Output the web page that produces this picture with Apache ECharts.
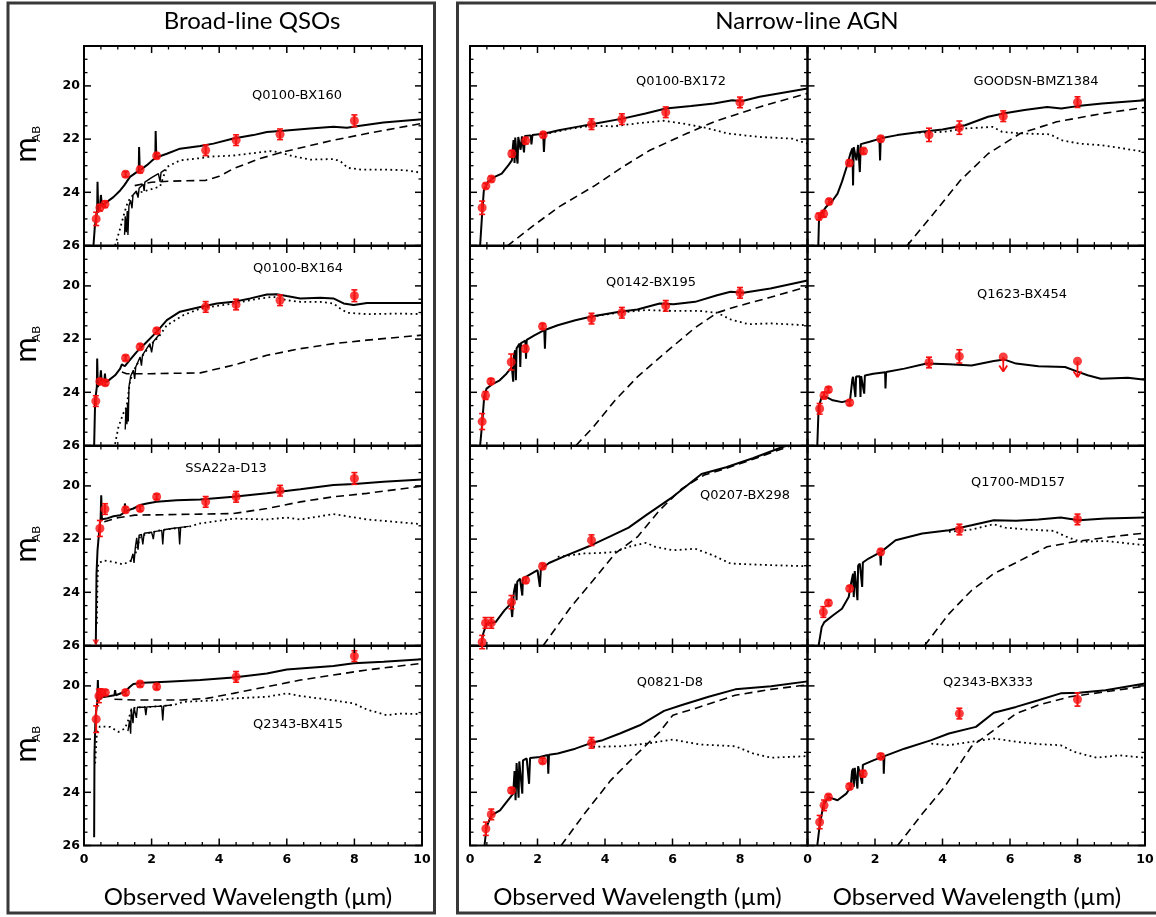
<!DOCTYPE html>
<html><head><meta charset="utf-8">
<script src="https://cdn.jsdelivr.net/npm/echarts@6/dist/echarts.min.js"></script>
<style>html,body{margin:0;padding:0;background:#fff}#c{width:1156px;height:917px}</style>
</head><body><div id="c"></div>
<script>
// ---------------- tick values ----------------
const xTicks = [0, 2, 4, 6, 8, 10];
const xTicksInner = [0, 2, 4, 6, 8];
const xMinorTicks = [0.5, 1, 1.5, 2.5, 3, 3.5, 4.5, 5, 5.5, 6.5, 7, 7.5, 8.5, 9, 9.5];
const yTicks = [20, 22, 24, 26];
const yMinorTicks = [19, 19.5, 20.5, 21, 21.5, 22.5, 23, 23.5, 24.5, 25, 25.5];

// ---------------- Broad-line QSOs ----------------
const p1Name = 'Q0100-BX160';
const p1Phot = [[0.36,25.0,0.25],[0.47,24.58,0.12],[0.62,24.45,0.12],[1.23,23.32,0.1],[1.66,23.15,0.12],[2.15,22.63,0.1],[3.6,22.42,0.2],[4.5,22.04,0.2],[5.8,21.82,0.2],[8.0,21.31,0.22]];
const p1Total = [[0.28,26.0],[0.32,25.3],[0.36,24.93],[0.39,24.68],[0.4,23.6],[0.42,24.68],[0.47,24.58],[0.5,24.1],[0.53,24.5],[0.67,24.37],[0.87,24.18],[1.07,23.93],[1.19,23.74],[1.26,23.61],[1.36,23.42],[1.56,23.24],[1.62,23.2],[1.63,22.3],[1.65,23.18],[1.86,22.98],[2.05,22.77],[2.11,22.72],[2.12,21.7],[2.14,22.69],[2.45,22.55],[2.84,22.36],[3.44,22.26],[3.83,22.17],[4.42,21.98],[5.01,21.85],[5.41,21.73],[5.9,21.69],[6.69,21.6],[7.38,21.54],[7.78,21.57],[8.17,21.5],[8.86,21.38],[10,21.25]];
const p1Spec = [[1.2,25.6],[1.22,24.9],[1.25,25.5],[1.28,24.7],[1.3,25.6],[1.33,24.5],[1.38,24.3],[1.42,24.6],[1.45,24.1],[1.55,23.95],[1.6,24.2],[1.63,23.85],[1.75,23.7],[1.78,23.95],[1.8,23.62],[2.0,23.45],[2.2,23.3],[2.25,23.6],[2.28,23.25],[2.4,23.15]];
const p1Stellar = [[0.92,26.0],[1.05,25.45],[1.2,24.75],[1.3,24.35],[1.46,24.08],[1.86,23.93],[2.25,23.78],[2.3,23.6],[2.45,23.05],[2.84,22.8],[3.4,22.72],[3.72,22.66],[4.4,22.62],[5.0,22.53],[5.5,22.45],[5.8,22.5],[6.2,22.65],[6.7,22.77],[7.4,22.75],[7.6,22.85],[7.8,23.08],[8.2,23.15],[9.0,23.15],[9.5,23.17],[10,23.27]];
const p1Agn = [[1.5,23.75],[2.0,23.62],[2.6,23.58],[3.6,23.55],[4.0,23.4],[4.42,23.11],[5.21,22.73],[5.9,22.48],[7.38,22.04],[8.37,21.79],[10,21.41]];

const p2Name = 'Q0100-BX164';
const p2Phot = [[0.35,24.33,0.2],[0.47,23.59,0.1],[0.63,23.64,0.1],[1.23,22.71,0.1],[1.66,22.29,0.1],[2.15,21.69,0.1],[3.6,20.79,0.2],[4.5,20.7,0.2],[5.8,20.54,0.2],[8.0,20.37,0.22]];
const p2Total = [[0.3,26.0],[0.33,24.3],[0.38,23.8],[0.39,22.73],[0.41,23.8],[0.47,23.61],[0.5,23.17],[0.52,23.55],[0.6,23.6],[0.62,23.3],[0.64,23.62],[0.7,23.58],[0.92,23.36],[1.07,23.11],[1.12,22.95],[1.21,23.02],[1.31,22.86],[1.56,22.48],[1.86,22.1],[2.15,21.73],[2.45,21.29],[2.84,20.97],[3.44,20.79],[3.93,20.66],[4.42,20.6],[4.92,20.47],[5.41,20.32],[5.7,20.31],[6.0,20.38],[6.4,20.47],[6.99,20.45],[7.38,20.47],[7.68,20.66],[7.98,20.72],[8.37,20.64],[9.36,20.64],[10,20.64]];
const p2Spec = [[1.22,25.4],[1.24,24.6],[1.27,25.2],[1.29,24.4],[1.31,25.1],[1.33,23.8],[1.38,23.4],[1.46,23.17],[1.5,23.5],[1.53,23.05],[1.66,22.67],[1.7,23.0],[1.73,22.6],[1.95,22.17],[2.0,22.5],[2.05,22.1],[2.25,21.79]];
const p2Stellar = [[0.92,25.94],[1.02,25.3],[1.16,24.8],[1.26,24.55],[1.36,23.6],[1.46,23.2],[1.66,22.75],[1.95,22.25],[2.25,21.85],[2.45,21.48],[2.94,21.1],[3.44,20.85],[4.42,20.66],[5.21,20.47],[5.61,20.41],[6.0,20.54],[6.4,20.6],[6.99,20.6],[7.38,20.66],[7.58,20.85],[7.78,21.01],[8.37,21.06],[9.36,21.04],[10,21.06]];
const p2Agn = [[1.12,23.24],[1.26,23.3],[1.95,23.3],[3.44,23.27],[4.42,22.98],[5.41,22.61],[6.4,22.36],[7.38,22.17],[8.37,22.04],[10,21.85]];

const p3Name = 'SSA22a-D13';
const p3Phot = [[0.47,21.6,0.3],[0.62,20.87,0.2],[1.23,20.9,0.1],[1.66,20.85,0.1],[2.15,20.41,0.1],[3.6,20.6,0.2],[4.5,20.41,0.2],[5.8,20.18,0.2],[8.0,19.72,0.22]];
const p3Faint = [[0.35,26.0]];
const p3Total = [[0.35,25.96],[0.37,23.3],[0.4,22.42],[0.47,21.41],[0.49,21.3],[0.51,20.35],[0.53,21.25],[0.67,21.23],[0.87,21.14],[1.07,21.1],[1.2,21.0],[1.21,20.66],[1.23,20.95],[1.46,20.85],[1.66,20.72],[1.86,20.66],[2.15,20.6],[2.74,20.54],[3.44,20.51],[4.42,20.41],[5.41,20.28],[6.4,20.13],[7.38,19.97],[8.0,19.93],[8.86,19.84],[10,19.76]];
const p3Spec = [[1.38,22.85],[1.45,22.55],[1.48,22.9],[1.52,22.3],[1.56,21.95],[1.6,22.4],[1.63,21.85],[1.7,21.82],[1.74,22.2],[1.78,21.78],[2.0,21.74],[2.05,22.0],[2.08,21.72],[2.3,21.67],[2.33,22.2],[2.36,21.65],[2.6,21.6],[2.8,21.57],[2.83,22.2],[2.86,21.56],[3.1,21.52]];
const p3Stellar = [[0.38,25.18],[0.4,23.55],[0.42,22.92],[0.57,22.8],[0.87,22.86],[1.16,22.95],[1.41,22.8],[1.51,22.61],[1.66,21.92],[1.86,21.79],[2.25,21.67],[2.84,21.57],[3.14,21.52],[3.44,21.41],[4.42,21.23],[5.41,21.26],[6.0,21.19],[6.4,21.26],[7.38,21.06],[7.58,21.1],[8.37,21.26],[10,21.44]];
const p3Agn = [[0.6,21.35],[1.0,21.2],[1.5,21.1],[2.5,21.08],[3.44,21.06],[4.42,21.04],[5.41,20.85],[6.4,20.6],[7.38,20.41],[8.37,20.28],[10,20.01]];

const p4Name = 'Q2343-BX415';
const p4Phot = [[0.36,21.25,0.5],[0.44,20.38,0.25],[0.49,20.26,0.15],[0.63,20.25,0.1],[1.23,20.25,0.1],[1.66,19.93,0.1],[2.15,20.03,0.1],[4.5,19.66,0.2],[8.0,18.88,0.2]];
const p4Total = [[0.3,25.69],[0.31,22.55],[0.34,21.16],[0.39,20.66],[0.41,19.78],[0.43,20.54],[0.47,20.47],[0.53,20.43],[0.77,20.38],[0.9,20.35],[0.92,20.16],[0.94,20.35],[1.21,20.22],[1.36,20.03],[1.46,19.93],[1.76,19.88],[2.45,19.84],[3.44,19.78],[4.42,19.68],[5.41,19.53],[6.0,19.38],[7.38,19.25],[7.98,19.15],[8.86,19.09],[10,19.0]];
const p4Spec = [[1.3,21.7],[1.35,21.3],[1.38,21.8],[1.4,20.85],[1.45,21.4],[1.48,20.82],[1.55,21.2],[1.58,20.8],[1.8,20.8],[1.83,21.1],[1.86,20.79],[2.3,20.76],[2.33,21.3],[2.36,20.75],[2.6,20.72]];
const p4Stellar = [[0.33,22.92],[0.38,21.79],[0.47,21.52],[0.77,21.54],[1.02,21.73],[1.21,21.6],[1.31,21.29],[1.41,20.85],[1.56,20.81],[1.95,20.79],[2.65,20.72],[2.94,20.6],[3.93,20.54],[4.42,20.47],[5.41,20.41],[6.0,20.28],[6.4,20.38],[7.38,20.54],[7.98,20.66],[8.37,20.89],[8.96,21.1],[9.36,21.04],[10,21.06]];
const p4Agn = [[0.9,20.5],[1.5,20.53],[2.9,20.53],[3.63,20.47],[4.42,20.28],[5.41,20.03],[6.4,19.78],[7.38,19.59],[8.37,19.4],[10,19.15]];

// ---------------- Narrow-line AGN ----------------
const n1Name = 'Q0100-BX172';
const n1Phot = [[0.36,24.58,0.25],[0.47,23.76,0.1],[0.63,23.5,0.1],[1.24,22.55,0.12],[1.65,22.06,0.12],[2.17,21.84,0.1],[3.6,21.44,0.2],[4.5,21.25,0.2],[5.8,20.99,0.2],[8.0,20.62,0.2]];
const n1Total = [[0.3,26.0],[0.36,24.8],[0.41,23.93],[0.53,23.61],[0.73,23.42],[0.94,23.3],[1.14,22.98],[1.24,22.8],[1.27,22.3],[1.29,22.04],[1.32,22.9],[1.34,21.94],[1.38,22.6],[1.41,22.92],[1.43,21.92],[1.5,22.4],[1.54,21.9],[1.6,22.5],[1.63,21.88],[1.8,21.86],[1.82,22.2],[1.85,21.85],[2.17,21.8],[2.19,22.48],[2.22,21.79],[2.63,21.67],[3.17,21.54],[3.6,21.44],[4.52,21.23],[5.2,21.04],[5.8,20.85],[6.55,20.76],[7.23,20.66],[7.77,20.54],[8.04,20.58],[8.58,20.41],[10,20.1]];
const n1Stellar = [[2.2,21.82],[3.0,21.6],[3.6,21.5],[4.25,21.52],[5.07,21.39],[5.74,21.31],[6.42,21.44],[6.96,21.57],[7.64,21.79],[8.58,21.92],[9.53,21.98],[10,22.17]];
const n1Agn = [[1.1,26.02],[1.82,25.31],[2.63,24.55],[3.71,23.74],[4.52,23.05],[5.33,22.42],[6.42,21.79],[7.23,21.35],[8.58,20.79],[10,20.28]];

const n2Name = 'GOODSN-BMZ1384';
const n2Phot = [[0.34,24.91,0.12],[0.48,24.81,0.12],[0.64,24.35,0.1],[1.24,22.9,0.1],[1.66,22.45,0.1],[2.17,21.99,0.1],[3.6,21.84,0.25],[4.5,21.57,0.25],[5.8,21.14,0.2],[8.0,20.61,0.2]];
const n2Total = [[0.32,26.02],[0.34,25.06],[0.41,24.81],[0.55,24.55],[0.75,24.3],[0.89,24.05],[1.02,23.61],[1.16,23.05],[1.27,22.55],[1.33,22.35],[1.35,23.74],[1.37,22.3],[1.45,22.8],[1.5,22.22],[1.55,23.24],[1.58,22.19],[1.84,22.1],[2.13,21.99],[2.15,22.8],[2.17,21.97],[2.66,21.85],[3.33,21.73],[4.0,21.64],[4.67,21.48],[5.35,21.16],[5.8,21.04],[6.43,20.91],[7.1,20.79],[7.52,20.85],[8.0,20.76],[8.73,20.66],[10,20.54]];
const n2Stellar = [[3.3,21.76],[4.0,21.73],[4.67,21.6],[5.48,21.54],[5.77,21.73],[6.43,21.79],[7.19,21.82],[7.52,22.04],[8.05,22.17],[8.73,22.23],[10,22.48]];
const n2Agn = [[2.94,26.02],[3.73,24.81],[4.53,23.55],[5.35,22.55],[6.3,21.79],[7.38,21.35],[8.73,21.04],[10,20.81]];

const n3Name = 'Q0142-BX195';
const n3Phot = [[0.36,25.1,0.3],[0.46,24.12,0.15],[0.62,23.59,0.1],[1.22,22.86,0.3],[1.64,22.36,0.12],[2.15,21.52,0.1],[3.6,21.23,0.2],[4.5,21.01,0.2],[5.8,20.75,0.2],[8.0,20.26,0.2]];
const n3Total = [[0.3,26.0],[0.36,25.18],[0.42,24.18],[0.49,23.86],[0.68,23.68],[0.88,23.55],[1.08,23.3],[1.24,23.05],[1.28,23.6],[1.3,22.6],[1.34,22.42],[1.36,23.55],[1.38,22.35],[1.47,22.17],[1.49,23.05],[1.51,22.15],[1.64,22.06],[1.66,22.74],[1.68,22.03],[1.92,21.85],[2.2,21.66],[2.22,22.36],[2.24,21.65],[2.6,21.48],[3.12,21.29],[3.64,21.14],[4.43,20.97],[4.96,20.89],[5.62,20.66],[6.03,20.69],[6.67,20.6],[7.32,20.35],[7.72,20.22],[8.1,20.26],[8.9,20.1],[10,19.8]];
const n3Stellar = [[3.6,21.16],[4.43,21.0],[5.22,20.91],[6.03,20.94],[6.8,20.94],[7.32,21.01],[7.72,21.26],[8.25,21.44],[8.9,21.41],[10,21.48]];
const n3Agn = [[3.14,26.0],[3.65,25.31],[4.3,24.3],[4.96,23.42],[5.75,22.55],[6.67,21.57],[7.32,21.01],[7.85,20.79],[8.9,20.43],[10,20.03]];

const n4Name = 'Q1623-BX454';
const n4Phot = [[0.36,24.62,0.2],[0.49,24.12,0.12],[0.62,23.9,0.1],[1.25,24.39,0.1],[3.6,22.88,0.2],[4.5,22.65,0.25]];
const n4Limits = [[5.8,22.67,0.55],[8.0,22.83,0.6]];
const n4Total = [[0.29,26.0],[0.33,24.55],[0.42,24.18],[0.56,24.18],[0.75,24.3],[1.02,24.37],[1.26,24.3],[1.33,23.5],[1.35,23.42],[1.42,24.18],[1.44,23.41],[1.55,23.4],[1.57,24.18],[1.59,23.39],[1.68,24.05],[1.7,23.37],[1.95,23.3],[2.3,23.25],[2.31,23.86],[2.33,23.24],[2.87,23.11],[3.53,22.92],[4.19,22.95],[4.86,22.99],[5.52,22.82],[5.84,22.77],[6.18,22.92],[6.84,23.02],[7.63,23.05],[8.04,23.24],[8.3,23.36],[8.69,23.49],[9.49,23.45],[10,23.53]];

const n5Name = 'Q0207-BX298';
const n5Phot = [[0.36,25.87,0.25],[0.46,25.15,0.2],[0.63,25.15,0.2],[1.23,24.37,0.25],[1.65,23.55,0.1],[2.15,23.02,0.1],[3.6,22.04,0.2]];
const n5Total = [[0.33,26.0],[0.39,25.56],[0.49,25.18],[0.76,25.12],[1.02,24.68],[1.21,24.43],[1.25,24.93],[1.3,24.0],[1.35,23.68],[1.38,24.3],[1.4,23.6],[1.48,23.49],[1.55,24.12],[1.57,23.47],[1.68,23.4],[2.0,23.17],[2.07,23.8],[2.1,23.13],[2.34,22.9],[2.86,22.61],[3.6,22.23],[4.17,21.89],[4.7,21.57],[5.22,21.1],[6.01,20.41],[6.86,19.55],[7.59,19.3],[8.38,18.96],[9.3,18.52],[9.5,18.45]];
const n5Stellar = [[2.6,22.67],[3.39,22.54],[3.92,22.52],[4.3,22.48],[4.7,22.29],[5.22,22.14],[5.49,22.29],[6.01,22.42],[6.67,22.36],[7.2,22.61],[7.72,22.92],[8.92,22.98],[10,23.02]];
const n5Agn = [[2.17,26.0],[2.99,24.55],[3.65,23.55],[4.3,22.54],[4.96,21.92],[5.62,20.91],[6.28,20.1],[6.94,19.59],[7.59,19.34],[8.38,19.0],[9.44,18.52],[9.6,18.45]];

const n6Name = 'Q1700-MD157';
const n6Phot = [[0.47,24.74,0.2],[0.62,24.4,0.1],[1.25,23.86,0.1],[2.17,22.48,0.1],[4.5,21.64,0.2],[8.0,21.26,0.2]];
const n6Total = [[0.33,26.0],[0.42,25.31],[0.5,25.12],[0.75,24.87],[1.02,24.62],[1.22,24.18],[1.3,23.6],[1.35,23.3],[1.37,24.18],[1.4,23.2],[1.48,24.3],[1.5,23.0],[1.55,22.92],[1.62,23.8],[1.64,22.88],[1.81,22.73],[2.15,22.5],[2.17,22.99],[2.19,22.47],[2.61,22.04],[3.4,21.79],[4.19,21.67],[4.86,21.48],[5.52,21.29],[6.18,21.31],[6.84,21.26],[7.5,21.19],[8.04,21.29],[8.83,21.23],[10,21.19]];
const n6Stellar = [[4.19,21.73],[4.86,21.64],[5.52,21.44],[5.86,21.57],[6.51,21.64],[7.29,21.69],[7.69,21.92],[8.09,22.1],[8.83,22.07],[10,22.23]];
const n6Agn = [[3.47,26.0],[4.19,24.81],[4.86,23.93],[5.52,23.3],[6.31,22.8],[7.1,22.29],[7.9,22.1],[8.96,21.92],[10,21.77]];

const n7Name = 'Q0821-D8';
const n7Phot = [[0.47,25.37,0.25],[0.63,24.83,0.2],[1.23,23.93,0.1],[2.15,22.82,0.1],[3.6,22.14,0.2]];
const n7Total = [[0.43,26.0],[0.49,25.31],[0.63,24.87],[0.89,24.68],[1.08,24.37],[1.28,24.05],[1.32,23.2],[1.35,24.3],[1.38,22.9],[1.41,22.86],[1.44,24.2],[1.46,22.84],[1.55,24.05],[1.57,22.8],[1.68,22.73],[1.75,23.68],[1.78,22.71],[2.07,22.67],[2.3,22.6],[2.32,23.3],[2.34,22.59],[2.6,22.54],[3.12,22.36],[3.6,22.14],[3.93,22.04],[4.44,21.79],[5.03,21.48],[5.75,20.94],[6.28,20.72],[7.07,20.41],[7.86,20.13],[8.92,20.01],[10,19.83]];
const n7Stellar = [[3.65,22.29],[4.44,22.27],[5.22,22.17],[6.01,22.02],[6.8,22.2],[7.86,22.27],[8.39,22.54],[8.92,22.7],[10,22.64]];
const n7Agn = [[2.7,26.0],[3.39,24.81],[4.17,23.55],[4.96,22.54],[5.62,21.73],[6.01,21.1],[6.67,20.85],[7.86,20.35],[8.92,20.13],[10,19.96]];

const n8Name = 'Q2343-BX333';
const n8Phot = [[0.36,25.12,0.25],[0.49,24.49,0.2],[0.62,24.18,0.1],[1.25,23.78,0.1],[1.65,23.3,0.12],[2.17,22.65,0.1],[4.5,21.04,0.2],[8.0,20.51,0.25]];
const n8Total = [[0.29,26.0],[0.36,25.25],[0.47,24.49],[0.62,24.18],[0.89,24.3],[1.15,24.05],[1.28,23.8],[1.32,23.2],[1.35,23.11],[1.37,23.8],[1.4,23.08],[1.48,23.86],[1.5,23.02],[1.55,22.99],[1.62,23.68],[1.64,22.97],[1.95,22.8],[2.25,22.65],[2.26,23.3],[2.28,22.64],[2.87,22.36],[3.67,22.04],[4.19,21.79],[4.99,21.54],[5.52,21.01],[6.18,20.79],[6.84,20.54],[7.5,20.28],[8.04,20.26],[8.83,20.16],[10,19.91]];
const n8Stellar = [[3.67,22.17],[4.19,22.23],[4.86,22.1],[5.52,21.98],[6.18,22.1],[6.84,22.19],[7.5,22.23],[7.9,22.48],[8.56,22.7],[9.23,22.61],[10,22.7]];
const n8Agn = [[2.67,26.0],[3.4,24.81],[4.06,23.8],[4.86,22.27],[5.52,21.67],[6.18,21.04],[6.84,20.72],[7.77,20.41],[8.83,20.22],[10,20.01]];

// ---------------- panel table (data references only) ----------------
const panels = [
  {name:p1Name, phot:p1Phot, total:p1Total, spec:p1Spec, stellar:p1Stellar, agn:p1Agn},
  {name:p2Name, phot:p2Phot, total:p2Total, spec:p2Spec, stellar:p2Stellar, agn:p2Agn},
  {name:p3Name, phot:p3Phot, total:p3Total, spec:p3Spec, stellar:p3Stellar, agn:p3Agn, faint:p3Faint},
  {name:p4Name, phot:p4Phot, total:p4Total, spec:p4Spec, stellar:p4Stellar, agn:p4Agn},
  {name:n1Name, phot:n1Phot, total:n1Total, stellar:n1Stellar, agn:n1Agn},
  {name:n2Name, phot:n2Phot, total:n2Total, stellar:n2Stellar, agn:n2Agn},
  {name:n3Name, phot:n3Phot, total:n3Total, stellar:n3Stellar, agn:n3Agn},
  {name:n4Name, phot:n4Phot, total:n4Total, limits:n4Limits},
  {name:n5Name, phot:n5Phot, total:n5Total, stellar:n5Stellar, agn:n5Agn},
  {name:n6Name, phot:n6Phot, total:n6Total, stellar:n6Stellar, agn:n6Agn},
  {name:n7Name, phot:n7Phot, total:n7Total, stellar:n7Stellar, agn:n7Agn},
  {name:n8Name, phot:n8Phot, total:n8Total, stellar:n8Stellar, agn:n8Agn}
];

// ---------------- layout (positions / styles) ----------------
const panelCell = [[0,0],[0,1],[0,2],[0,3],[1,0],[2,0],[1,1],[2,1],[1,2],[2,2],[1,3],[2,3]]; // [col,row]
const colLeft = [84, 470, 807.5];
const colWidth = [338, 337.5, 337.5];
const rowTop = [46, 246, 446, 646];
const rowH = 199.5;
const nameAt = [[297,96],[298,269],[226,469],[298,725],[681,82],[1036,82],[651,283],[1022,295],[745,496],[1018,483],[670,683],[988,683]];

const RED = '#f70f0f';
const BLACK = '#000';
const tickFont = {fontFamily:'DejaVu Sans', fontWeight:'bold', fontSize:12.5, color:BLACK};
const MAJOR = 7, MINOR = 3.5;

const grids = [], xAxes = [], yAxes = [], series = [];

function errRender(params, api) {
  const x = api.value(0), y = api.value(1), e = api.value(2);
  const a = api.coord([x, y - e]), b = api.coord([x, y + e]);
  const w = 3;
  return {type:'group', children:[
    {type:'line', shape:{x1:a[0], y1:a[1], x2:b[0], y2:b[1]}, style:{stroke:RED, lineWidth:2}},
    {type:'line', shape:{x1:a[0]-w, y1:a[1], x2:a[0]+w, y2:a[1]}, style:{stroke:RED, lineWidth:1.6}},
    {type:'line', shape:{x1:b[0]-w, y1:b[1], x2:b[0]+w, y2:b[1]}, style:{stroke:RED, lineWidth:1.6}}
  ]};
}
function limRender(params, api) {
  const x = api.value(0), y = api.value(1), l = api.value(2);
  const a = api.coord([x, y]), b = api.coord([x, y + l]);
  const st = {stroke: RED, lineWidth: 1.8};
  return {type:'group', children:[
    {type:'line', shape:{x1:a[0], y1:a[1], x2:b[0], y2:b[1]}, style:st},
    {type:'line', shape:{x1:b[0]-4, y1:b[1]-6, x2:b[0], y2:b[1]}, style:st},
    {type:'line', shape:{x1:b[0]+4, y1:b[1]-6, x2:b[0], y2:b[1]}, style:st}
  ]};
}

panels.forEach((p, i) => {
  const [c, r] = panelCell[i];
  grids.push({left: colLeft[c], top: rowTop[r], width: colWidth[c], height: rowH, outerBoundsMode: 'none',
    show:true, borderColor:BLACK, borderWidth:2, backgroundColor:'transparent'});
  xAxes.push({gridIndex:i, type:'value', min:0, max:10, interval:2, position:'bottom',
    axisLine:{show:false, onZero:false}, axisTick:{show:false}, splitLine:{show:false},
    axisLabel:Object.assign({show: r === 3, margin:8, customValues: (c === 1 ? xTicksInner : xTicks)}, tickFont)});
  yAxes.push({gridIndex:i, type:'value', inverse:true, min:18.5, max:26, interval:0.5, position:'left',
    axisLine:{show:false, onZero:false}, axisTick:{show:false}, splitLine:{show:false},
    axisLabel:Object.assign({show: c === 0, margin:4, customValues: yTicks}, tickFont)});
  const lineBase = {type:'line', xAxisIndex:i, yAxisIndex:i, showSymbol:false, symbol:'none', silent:true, animation:false, clip:true};
  if (p.agn) series.push(Object.assign({}, lineBase, {data:p.agn, z:2, lineStyle:{color:BLACK, width:1.6, type:[8,5]}}));
  if (p.stellar) series.push(Object.assign({}, lineBase, {data:p.stellar, z:2, lineStyle:{color:BLACK, width:1.8, type:[1.8,3.4]}}));
  if (p.spec) series.push(Object.assign({}, lineBase, {data:p.spec, z:2, lineStyle:{color:BLACK, width:1.4}}));
  series.push(Object.assign({}, lineBase, {data:p.total, z:3, lineStyle:{color:BLACK, width:2}}));
  series.push({type:'custom', xAxisIndex:i, yAxisIndex:i, data:p.phot, renderItem:errRender, z:5, silent:true, animation:false, encode:{x:0, y:1}});
  series.push({type:'scatter', xAxisIndex:i, yAxisIndex:i, data:p.phot.map(d => [d[0], d[1]]), symbol:'circle', symbolSize:9, itemStyle:{color:RED}, z:6, silent:true, animation:false});
  if (p.limits) {
    series.push({type:'custom', xAxisIndex:i, yAxisIndex:i, data:p.limits, renderItem:limRender, z:5, silent:true, animation:false, encode:{x:0, y:1}});
    series.push({type:'scatter', xAxisIndex:i, yAxisIndex:i, data:p.limits.map(d => [d[0], d[1]]), symbol:'circle', symbolSize:9, itemStyle:{color:RED}, z:6, silent:true, animation:false});
  }
  if (p.faint) {
    series.push({type:'scatter', xAxisIndex:i, yAxisIndex:i, data:p.faint, symbol:'triangle', symbolRotate:180, symbolSize:[7,6], symbolOffset:[0,-3], itemStyle:{color:RED}, z:6, silent:true, animation:false, clip:false});
  }
});

// ---------------- decorations ----------------
const graphic = [];
graphic.push({type:'rect', shape:{x:8, y:3, width:426.5, height:910}, style:{fill:'none', stroke:'#383838', lineWidth:3}, z:100});
graphic.push({type:'rect', shape:{x:457.5, y:3, width:720, height:910}, style:{fill:'none', stroke:'#383838', lineWidth:3}, z:100});
function txt(x, y, text, size, family, extra) {
  return Object.assign({type:'text', x:x, y:y, z:100, style:{text:text, fontSize:size, fontFamily:family, fill:BLACK,
    align:'center', verticalAlign:'middle', textAlign:'center', textVerticalAlign:'middle'}}, extra || {});
}
graphic.push(txt(252, 21, 'Broad-line QSOs', 24, 'Lato'));
graphic.push(txt(807, 21, 'Narrow-line AGN', 24, 'Lato'));
graphic.push(txt(248, 897, 'Observed Wavelength (µm)', 24, 'Lato'));
graphic.push(txt(637.5, 897, 'Observed Wavelength (µm)', 24, 'Lato'));
graphic.push(txt(977, 897, 'Observed Wavelength (µm)', 24, 'Lato'));
rowTop.forEach(t => {
  graphic.push(txt(25.5, t + 104, 'm', 31, 'Lato', {rotation: Math.PI / 2}));
  graphic.push(txt(36.5, t + 88, 'AB', 12, 'Lato', {rotation: Math.PI / 2}));
});
panels.forEach((p, i) => {
  graphic.push(txt(nameAt[i][0], nameAt[i][1], p.name, 13, 'DejaVu Sans'));
});

const chart = echarts.init(document.getElementById('c'), null, {renderer:'canvas', width:1156, height:917});
chart.setOption({
  animation:false,
  backgroundColor:'#fff',
  grid:grids, xAxis:xAxes, yAxis:yAxes, series:series
});

// inward ticks on all four sides of each panel, placed through each grid's scales
panels.forEach((p, i) => {
  const [c, r] = panelCell[i];
  const L = colLeft[c], R = colLeft[c] + colWidth[c], T = rowTop[r], B = rowTop[r] + rowH;
  const seg = (x1, y1, x2, y2, w) => graphic.push({type:'line', z:120, silent:true,
    shape:{x1:x1, y1:y1, x2:x2, y2:y2}, style:{stroke:BLACK, lineWidth:w}});
  const xt = (vals, len, w) => vals.forEach(v => {
    const px = chart.convertToPixel({gridIndex:i}, [v, 22])[0];
    seg(px, B, px, B - len, w); seg(px, T, px, T + len, w);
  });
  const yt = (vals, len, w) => vals.forEach(v => {
    const py = chart.convertToPixel({gridIndex:i}, [5, v])[1];
    seg(L, py, L + len, py, w); seg(R, py, R - len, py, w);
  });
  xt(xTicks, MAJOR, 1.5); xt(xMinorTicks, MINOR, 1.3);
  yt(yTicks, MAJOR, 1.5); yt(yMinorTicks, MINOR, 1.3);
});
chart.setOption({graphic: graphic});
</script></body></html>
